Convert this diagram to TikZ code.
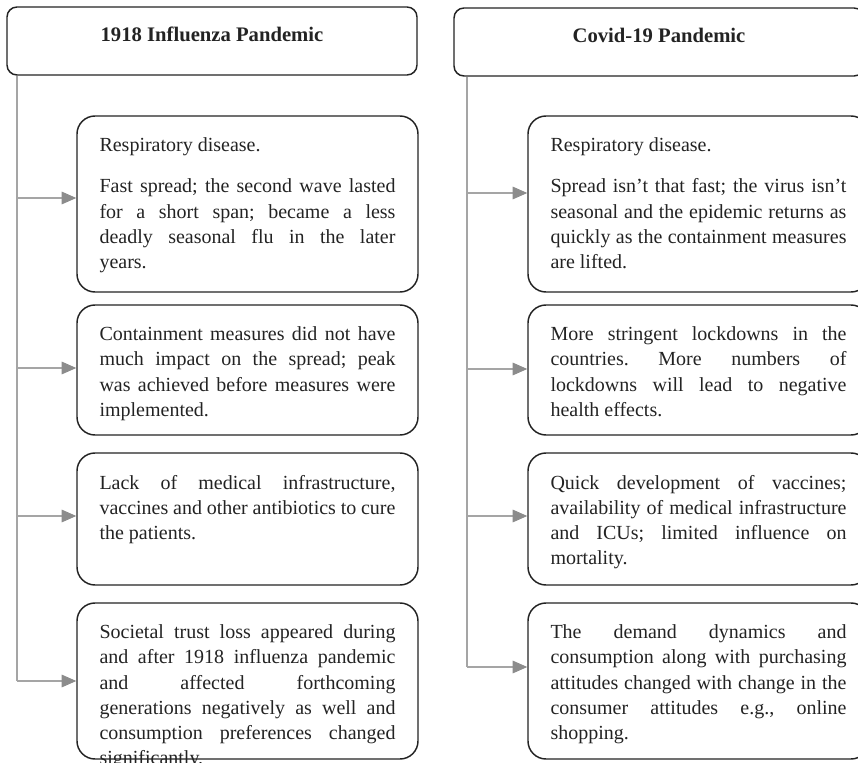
\documentclass[tikz,border=0pt]{standalone}
\usepackage{fontspec}
\setmainfont{Liberation Serif}
\usetikzlibrary{arrows.meta}
\definecolor{linegray}{RGB}{165,165,165}
\definecolor{tipgray}{RGB}{140,140,140}
\definecolor{inkgray}{RGB}{35,35,35}
\tikzset{
	headbox/.style={draw=inkgray, line width=1.1pt, rounded corners=7.5pt, inner xsep=15pt, inner ysep=15pt, text=inkgray},
	cellbox/.style={draw=inkgray, line width=1.1pt, rounded corners=13.5pt, inner xsep=16.875pt, inner ysep=16.5pt, text=inkgray},
	trunk/.style={draw=linegray, line width=0.8pt},
	branch/.style={trunk, -{Triangle[length=11pt, width=9.5pt, color=tipgray, fill=tipgray]}},
}
\newcommand{\headtext}[1]{\parbox[c][21pt][t]{277.5pt}{\centering\fontsize{15.5}{19}\selectfont\bfseries #1}}
\newcommand{\celltext}[2]{\parbox[c][#1][t]{222pt}{\fontsize{15}{18.8}\selectfont\frenchspacing\setlength{\parskip}{12pt}#2}}
\begin{document}
\begin{tikzpicture}[x=0.75pt, y=-0.75pt]
	\useasboundingbox (0,0) rectangle (858,763);
	
	% Headers
	\node[headbox] (hdrL) at (212,41) {\headtext{1918 Influenza Pandemic}};
	\node[headbox] (hdrR) at (659,42) {\headtext{Covid-19 Pandemic}};
	
	% Boxes 1918
	\node[cellbox] (cellL1) at (247.5,204) {\celltext{99pt}{Respiratory disease.\par Fast spread; the second wave lasted\linebreak for a short span; became a less\linebreak deadly seasonal flu in the later\linebreak years.}};
	\node[cellbox] (cellL2) at (247.5,370) {\celltext{64.5pt}{Containment measures did not have\linebreak much impact on the spread; peak\linebreak was achieved before measures were\linebreak implemented.}};
	\node[cellbox] (cellL3) at (247.5,519) {\celltext{66pt}{Lack of medical infrastructure,\linebreak vaccines and other antibiotics to cure\linebreak the patients.}};
	\node[cellbox] (cellL4) at (247.5,681) {\celltext{84pt}{Societal trust loss appeared during\linebreak and after 1918 influenza pandemic\linebreak and affected forthcoming\linebreak generations negatively as well and\linebreak consumption preferences changed\linebreak significantly.}};
	
	% Boxes Covid-19
	\node[cellbox] (cellR1) at (698.5,204) {\celltext{99pt}{Respiratory disease.\par Spread isn’t that fast; the virus isn’t\linebreak seasonal and the epidemic returns as\linebreak quickly as the containment measures\linebreak are lifted.}};
	\node[cellbox] (cellR2) at (698.5,370) {\celltext{64.5pt}{More stringent lockdowns in the\linebreak countries. More numbers of\linebreak lockdowns will lead to negative\linebreak health effects.}};
	\node[cellbox] (cellR3) at (698.5,519) {\celltext{66pt}{Quick development of vaccines;\linebreak availability of medical infrastructure\linebreak and ICUs; limited influence on\linebreak mortality.}};
	\node[cellbox] (cellR4) at (698.5,681) {\celltext{84pt}{The demand dynamics and\linebreak consumption along with purchasing\linebreak attitudes changed with change in the\linebreak consumer attitudes e.g., online\linebreak shopping.}};
	
	% Branch points
	\coordinate (l1) at (17,198);
	\coordinate (l2) at (17,368);
	\coordinate (l3) at (17,516);
	\coordinate (l4) at (17,681);
	\coordinate (r1) at (467,193);
	\coordinate (r2) at (467,369);
	\coordinate (r3) at (467,516);
	\coordinate (r4) at (467,667);
	
	% Connectors
	\draw[trunk] (hdrL.south -| l1) -- (l4);
	\draw[trunk] (hdrR.south -| r1) -- (r4);
	\foreach \i in {1,...,4} {
		\draw[branch] (l\i) -- (l\i -| cellL\i.west);
		\draw[branch] (r\i) -- (r\i -| cellR\i.west);
	}
\end{tikzpicture}
\end{document}
